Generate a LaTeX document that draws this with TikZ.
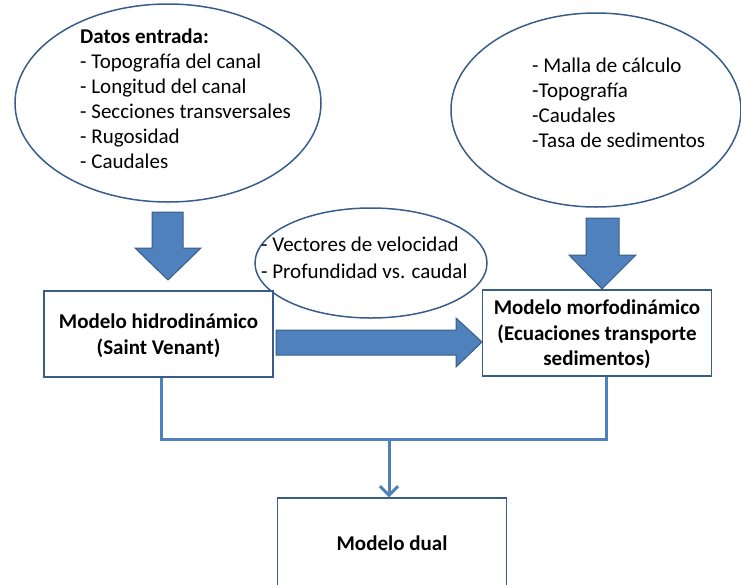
\documentclass[tikz,border=0pt]{standalone}
\usepackage{fontspec}
\setmainfont{Carlito}
\usetikzlibrary{shapes.geometric, arrows.meta}
\definecolor{azul}{HTML}{4F81BD}
\definecolor{azuloscuro}{HTML}{385D8A}
\tikzset{
  burbuja/.style={ellipse, draw=azuloscuro, line width=1.5pt, inner sep=0pt},
  caja/.style={rectangle, draw=azuloscuro, line width=1.5pt, fill=white, align=center,
    font=\fontsize{21}{25.5}\selectfont\bfseries},
  flecha/.style={fill=azul, draw=azuloscuro, line width=1pt},
  linea/.style={draw=azul, line width=3pt},
  texto/.style={font=\fontsize{21}{25}\selectfont, align=left, inner sep=0pt, anchor=north west}
}
\begin{document}
\begin{tikzpicture}[x=1pt, y=-1pt]
    \useasboundingbox (0,0) rectangle (741,584);
    \clip (0,0) rectangle (741,584);

    % elipses de datos
    \node [burbuja, minimum width=306, minimum height=198] (datos) at (168, 103) {};
    \node [texto] (datostxt) at (80, 29) {\textbf{Datos entrada:}\\- Topografía del canal\\- Longitud del canal\\- Secciones transversales\\- Rugosidad\\- Caudales};

    \node [burbuja, minimum width=290, minimum height=194] (malla) at (596, 110) {};
    \node [texto] (mallatxt) at (532, 58) {- Malla de cálculo\\-Topografía\\-Caudales\\-Tasa de sedimentos};

    \node [burbuja, minimum width=232, minimum height=110] (vectores) at (371, 263) {};
    \node [texto, font=\fontsize{21}{27}\selectfont] (vectorestxt) at (261, 237) {- Vectores de velocidad\\- Profundidad vs. caudal};

    % modelos
    \node [caja, minimum width=229, minimum height=86] (hidro) at (158.5, 334) {\strut Modelo hidrodinámico\\(Saint Venant)};
    \node [caja, minimum width=229, minimum height=86] (morfo) at (597, 333) {\strut Modelo morfodinámico\\(Ecuaciones transporte\\sedimentos)};
    \node [caja, minimum width=229, minimum height=90] (dual) at (392, 543) {Modelo dual};

    % flechas gruesas
    \draw [flecha] (152,212) -- (183,212) -- (183,248) -- (201,248) -- (168,280) -- (135,248) -- (152,248) -- cycle;
    \draw [flecha] (586,218) -- (619,218) -- (619,255) -- (636,255) -- (602,289) -- (569,255) -- (586,255) -- cycle;
    \draw [flecha] (276,330) -- (456,330) -- (456,318) -- (482,342) -- (456,367) -- (456,355) -- (276,355) -- cycle;

    % union de modelos
    \coordinate (union) at (389, 439);
    \draw [linea] ([xshift=2.5pt]hidro.south) |- (union) -| ([xshift=9pt]morfo.south);
    \draw [linea, -{Straight Barb[length=9pt, width=18pt]}] (union) -- (union |- dual.north);

\end{tikzpicture}
\end{document}
